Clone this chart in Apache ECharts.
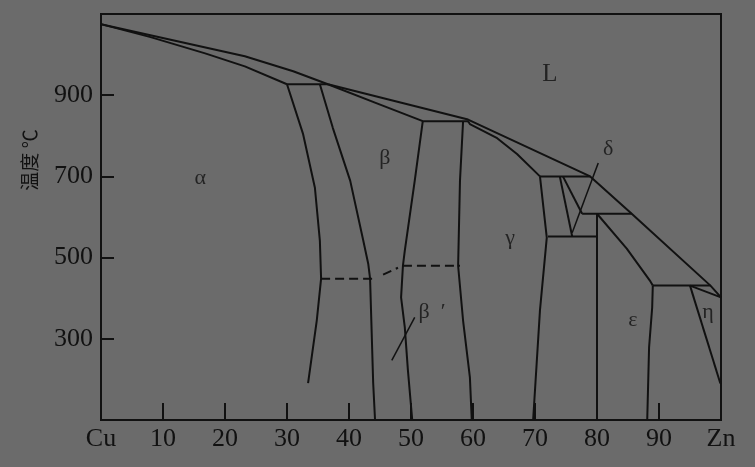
<!DOCTYPE html>
<html>
<head>
<meta charset="utf-8">
<script src="https://cdn.jsdelivr.net/npm/echarts@6/dist/echarts.min.js"></script>
<style>
  html, body { margin: 0; padding: 0; background: #6b6b6b; }
  #cuZnPhaseDiagram { width: 755px; height: 467px; }
</style>
</head>
<body>
<div id="cuZnPhaseDiagram"></div>
<script>
// 点: [Zn %, 温度 ℃]
var liquidus = [[0, 1075], [23.2, 996], [31, 959], [36.6, 927], [59.2, 840], [78.9, 700], [85.6, 608], [98.3, 431], [100, 402]]
var alphaSolidus = [[0, 1075], [8, 1043], [16.8, 1003], [23.2, 971], [30, 927]]
var betaSolidus = [[36.6, 927], [44.5, 880], [51.9, 836]]
var gammaSolidus = [[59.2, 836], [59.5, 829], [63.9, 794], [67.1, 755], [70.8, 700]]
var epsilonSolidus = [[80, 608], [84.8, 522], [88.5, 444], [89, 431]]
var etaSolidus = [[95, 431], [100, 402]]

var alphaBoundary = [[30, 927], [32.6, 804], [34.5, 672], [35.3, 542], [35.5, 448], [34.8, 345], [33.4, 191]]
var betaLeft = [[35.3, 927], [37.4, 819], [40.2, 689], [42.3, 542], [43.1, 485], [43.4, 448], [43.9, 191], [44.2, 100]]
var betaRight = [[51.9, 836], [50.6, 689], [49, 517], [48.7, 480], [48.4, 402], [49, 328], [49.5, 223], [50.2, 100]]
var gammaLeft = [[58.4, 836], [57.9, 689], [57.6, 480], [58.4, 345], [59.5, 205], [59.8, 100]]
var gammaRight = [[70.8, 700], [71.9, 549], [70.8, 370], [69.7, 100]]
var deltaLeft = [[74, 700], [76, 552]]
var deltaRight = [[74.5, 700], [77.6, 608]]
var epsilonLeft = [[80, 608], [80, 100]]
var epsilonRight = [[89, 431], [88.9, 377], [88.4, 279], [88.1, 100]]
var etaLeft = [[95, 431], [99.9, 190]]

var isotherms = [
  [[30, 927], [36.6, 927]],
  [[51.9, 836], [59.2, 836]],
  [[70.8, 700], [78.9, 700]],
  [[77.6, 608], [85.6, 608]],
  [[72.1, 552], [80, 552]],
  [[89, 431], [98.3, 431]]
]
var orderLines = [
  [[35.5, 448], [44.5, 448]],
  [[45.5, 458], [47.9, 475]],
  [[48.7, 480], [57.9, 480]]
]
var pointers = [
  [[80.2, 733], [76, 561]],
  [[50.6, 353], [46.9, 247]]
]

var phaseNames = ['α', 'β', 'L', 'δ', 'γ', 'β  ′', 'ε', 'η']
var phasePos = [[16, 696], [45.8, 745], [72.4, 952], [81.8, 767], [66, 547], [53.4, 365], [85.8, 345], [97.9, 365]]

var xLabels = { 0: 'Cu', 100: 'Zn' }

var echartsInstance = echarts.init(document.getElementById('cuZnPhaseDiagram'))

var ink = '#111'
var series = []

function addLine (points, width, dashed) {
  series.push({
    type: 'line',
    data: points,
    showSymbol: false,
    silent: true,
    animation: false,
    lineStyle: { color: ink, width: width, type: dashed ? [9, 5] : 'solid' }
  })
}

[liquidus, alphaSolidus, betaSolidus, gammaSolidus, epsilonSolidus, etaSolidus,
  alphaBoundary, betaLeft, betaRight, gammaLeft, gammaRight, deltaLeft, deltaRight,
  epsilonLeft, epsilonRight, etaLeft].forEach(function (p) { addLine(p, 2) })
isotherms.forEach(function (p) { addLine(p, 2) })
orderLines.forEach(function (p) { addLine(p, 2, true) })
pointers.forEach(function (p) { addLine(p, 1.5) })

series.push({
  type: 'scatter',
  symbolSize: 0,
  silent: true,
  animation: false,
  data: phaseNames.map(function (n, i) {
    return { name: n, value: phasePos[i], label: n === 'L' ? { fontSize: 25 } : undefined }
  }),
  label: {
    show: true,
    position: 'inside',
    formatter: '{b}',
    color: ink,
    fontFamily: 'Liberation Serif',
    fontSize: 22
  }
})

var options = {
  backgroundColor: '#6b6b6b',
  grid: {
    left: 101,
    right: 34,
    top: 14,
    bottom: 47,
    show: true,
    borderColor: ink,
    borderWidth: 2
  },
  graphic: [{
    type: 'text',
    x: 30,
    y: 160,
    rotation: Math.PI / 2,
    style: {
      text: '温度 ℃',
      fill: ink,
      font: '19px "Noto Sans CJK SC"',
      align: 'center',
      verticalAlign: 'middle'
    }
  }],
  xAxis: {
    type: 'value',
    min: 0,
    max: 100,
    interval: 10,
    splitLine: { show: false },
    axisLine: { lineStyle: { color: ink, width: 2 } },
    axisTick: { inside: true, length: 17, lineStyle: { color: ink, width: 2 } },
    axisLabel: {
      margin: 6,
      color: ink,
      fontFamily: 'Liberation Serif',
      fontSize: 26,
      showMinLabel: true,
      showMaxLabel: true,
      formatter: function (v) { return xLabels[v] || v }
    }
  },
  yAxis: {
    type: 'value',
    min: 100,
    max: 1100,
    interval: 200,
    splitLine: { show: false },
    axisLine: { lineStyle: { color: ink, width: 2 } },
    axisTick: { inside: true, length: 13, lineStyle: { color: ink, width: 2 } },
    axisLabel: {
      margin: 8,
      color: ink,
      fontFamily: 'Liberation Serif',
      fontSize: 26,
      formatter: function (v) { return (v === 100 || v === 1100) ? '' : v }
    }
  },
  series: series
}

echartsInstance.setOption(options)
</script>
</body>
</html>
